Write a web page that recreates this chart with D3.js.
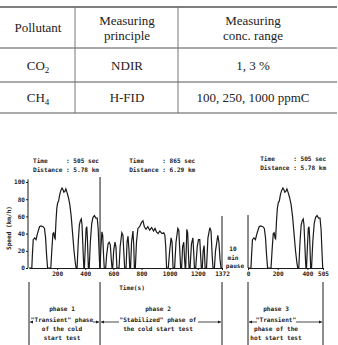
<!DOCTYPE html>
<html>
<head>
<meta charset="utf-8">
<script src="https://cdn.jsdelivr.net/npm/d3@7"></script>
<style>
  body { margin: 0; background: #fff; }
  svg { display: block; }
  .tbl { font-family: "Liberation Serif", "DejaVu Serif", serif; font-size: 13px; fill: #222; }
  .mono { font-family: "DejaVu Sans Mono", "Liberation Mono", monospace; font-size: 6.1px; font-weight: bold; fill: #222; white-space: pre; }
  .axis path, .axis line { stroke: #1a1a1a; stroke-width: 1; }
  .axis text { font-family: "DejaVu Sans Mono", "Liberation Mono", monospace; font-size: 6.1px; font-weight: bold; fill: #222; }
</style>
</head>
<body>
<svg id="chart"></svg>
<script>
// ---- table content ----
const tableHeaders = [["Pollutant"], ["Measuring", "principle"], ["Measuring", "conc. range"]];
const tableRows = [
  [["CO", "2"], ["NDIR"], ["1, 3 %"]],
  [["CH", "4"], ["H-FID"], ["100, 250, 1000 ppmC"]]
];

// ---- driving cycle (time s, speed km/h) ----
// phase 1: transient phase, 0-505 s (repeated as phase 3, hot start)
const phase1 = [
  [0,0],[20,0],[24,15],[30,33],[40,35],[50,33],[60,40],[75,48],[85,49],[100,48],[110,46],
  [118,35],[125,15],[132,0],[155,0],[162,20],[170,40],[176,41],[182,35],[186,34],[192,55],
  [198,70],[204,76],[211,78],[218,85],[226,90],[235,93],[242,91],[248,88],[255,89],[262,92],
  [270,88],[280,82],[290,74],[300,60],[310,40],[320,20],[330,5],[335,0],[342,0],[350,30],
  [358,50],[365,55],[372,57],[377,50],[382,30],[387,10],[390,0],[394,0],[400,25],[406,46],
  [411,48],[415,35],[419,15],[422,0],[428,0],[436,30],[446,52],[455,59],[465,61],[475,58],
  [485,58],[492,45],[498,20],[503,0],[505,0]
];
// phase 2: stabilized phase, 505-1372 s
const phase2 = [
  [505,0],[510,20],[518,42],[524,38],[530,15],[535,0],[545,0],[552,15],[562,28],[570,30],
  [578,27],[585,10],[590,0],[595,0],[602,20],[611,30],[618,25],[625,0],[640,0],[648,25],
  [660,41],[668,38],[675,15],[680,0],[690,0],[697,30],[704,37],[711,20],[716,0],[722,0],
  [729,30],[739,43],[745,25],[749,0],[756,0],[764,30],[774,46],[786,48],[800,53],[810,55],
  [820,48],[832,45],[845,48],[858,44],[872,47],[885,43],[896,46],[906,42],[918,40],[930,43],
  [945,40],[958,41],[966,38],[972,25],[978,0],[990,0],[1000,20],[1010,35],[1017,30],[1024,0],
  [1035,0],[1045,30],[1058,46],[1065,44],[1072,20],[1078,0],[1085,0],[1092,25],[1100,30],
  [1106,10],[1110,0],[1114,0],[1122,45],[1128,41],[1134,15],[1138,0],[1145,0],[1155,28],
  [1165,35],[1172,15],[1176,0],[1185,0],[1196,25],[1205,33],[1214,33],[1220,15],[1225,0],
  [1232,0],[1238,20],[1245,26],[1252,0],[1262,0],[1272,35],[1286,47],[1294,43],[1302,15],
  [1308,0],[1318,0],[1326,20],[1335,30],[1342,38],[1350,30],[1358,10],[1365,0],[1372,0]
];

const coldTicks = [200, 400, 600, 800, 1000, 1200, 1372];
const hotTicks = [0, 200, 400, 505];
const speedTicks = [0, 20, 40, 60, 80, 100];

const infoBlocks = [
  { time: "505 sec", dist: "5.78 km", phase: "cold", t: 0 },
  { time: "865 sec", dist: "6.29 km", phase: "cold", t: 684 },
  { time: "505 sec", dist: "5.78 km", phase: "hot", t: 55 }
];

const width = 338, height = 345;
const svg = d3.select("#chart").attr("width", width).attr("height", height);

// ---------------- table ----------------
const colX = [0, 75, 178, 338];
const colCenter = [38, 127, 253];
const rowY = [7, 48, 82, 113];

const tg = svg.append("g");
tg.selectAll(".hline")
  .data(rowY)
  .enter().append("line")
  .attr("x1", 0).attr("x2", 337)
  .attr("y1", d => d).attr("y2", d => d)
  .attr("stroke", "#555")
  .attr("stroke-width", (d, i) => i === 0 ? 1.6 : 1);
tg.selectAll(".vline")
  .data(colX.slice(1, 3))
  .enter().append("line")
  .attr("x1", d => d).attr("x2", d => d)
  .attr("y1", rowY[0]).attr("y2", rowY[3])
  .attr("stroke", "#777").attr("stroke-width", 1);

tableHeaders.forEach((lines, i) => {
  const mid = (rowY[0] + rowY[1]) / 2 + 4.5;
  lines.forEach((s, j) => {
    tg.append("text").attr("class", "tbl")
      .attr("x", colCenter[i])
      .attr("y", mid + (j - (lines.length - 1) / 2) * 15)
      .attr("text-anchor", "middle")
      .text(s);
  });
});
tableRows.forEach((row, r) => {
  const mid = (rowY[r + 1] + rowY[r + 2]) / 2 + 4.5;
  row.forEach((cell, i) => {
    const t = tg.append("text").attr("class", "tbl")
      .attr("x", colCenter[i]).attr("y", mid)
      .attr("text-anchor", "middle");
    t.append("tspan").text(cell[0]);
    if (cell.length > 1) {
      t.append("tspan").attr("font-size", "9px").attr("dy", 3).text(cell[1]);
    }
  });
});

// ---------------- driving cycle chart ----------------
const xCold = d3.scaleLinear().domain([0, 1372]).range([29, 222]);
const xHot = d3.scaleLinear().domain([0, 505]).range([248, 323]);
const y = d3.scaleLinear().domain([0, 100]).range([268, 182]);

const g = svg.append("g");

// axes
g.append("g").attr("class", "axis")
  .attr("transform", `translate(${xCold(0) - 1},0)`)
  .call(d3.axisLeft(y).tickValues(speedTicks).tickSize(2).tickSizeOuter(0).tickPadding(1))
  .call(a => a.select(".domain").attr("d", `M0,${y(0)}V${y(103)}`));

g.append("g").attr("class", "axis")
  .attr("transform", `translate(0,${y(0)})`)
  .call(d3.axisBottom(xCold).tickValues(coldTicks).tickFormat(d3.format("d"))
    .tickSize(2).tickSizeOuter(0).tickPadding(2));

g.append("g").attr("class", "axis")
  .attr("transform", `translate(0,${y(0)})`)
  .call(d3.axisBottom(xHot).tickValues(hotTicks).tickFormat(d3.format("d"))
    .tickSize(2).tickSizeOuter(0).tickPadding(2));

// speed traces
const lineCold = d3.line().x(d => xCold(d[0])).y(d => y(d[1]));
const lineHot = d3.line().x(d => xHot(d[0])).y(d => y(d[1]));

[phase1, phase2].forEach(p => {
  g.append("path").attr("d", lineCold(p))
    .attr("fill", "none").attr("stroke", "#1a1a1a").attr("stroke-width", 1.2);
});
g.append("path").attr("d", lineHot(phase1))
  .attr("fill", "none").attr("stroke", "#1a1a1a").attr("stroke-width", 1.2);

// phase boundary lines
const boundaries = [
  { x: xCold(0), segs: [[282, 345]] },
  { x: xCold(505), segs: [[177, 268], [282, 345]] },
  { x: xCold(1372), segs: [[216, 268], [282, 345]] },
  { x: xHot(0), segs: [[215, 268], [282, 345]] },
  { x: xHot(505), segs: [[282, 345]] }
];
boundaries.forEach(b => {
  b.segs.forEach(s => {
    g.append("line").attr("x1", b.x).attr("x2", b.x)
      .attr("y1", s[0]).attr("y2", s[1])
      .attr("stroke", "#1a1a1a").attr("stroke-width", 1);
  });
});

// labels
g.append("text").attr("class", "mono")
  .attr("transform", "translate(11,228) rotate(-90)")
  .attr("text-anchor", "middle").text("Speed (km/h)");
g.append("text").attr("class", "mono")
  .attr("x", 132).attr("y", 290).attr("text-anchor", "middle").text("Time(s)");

["10", "min", "pause"].forEach((s, i) => {
  g.append("text").attr("class", "mono")
    .attr("x", 233 + (i === 2 ? 2 : 0)).attr("y", 251 + i * 8.5)
    .attr("text-anchor", "middle").text(s);
});

infoBlocks.forEach(b => {
  const x0 = (b.phase === "cold" ? xCold(b.t) : xHot(b.t)) + 4;
  const y0 = b.phase === "cold" ? 163 : 161;
  g.append("text").attr("class", "mono").attr("x", x0).attr("y", y0)
    .text("Time     : " + b.time);
  g.append("text").attr("class", "mono").attr("x", x0).attr("y", y0 + 8.5)
    .text("Distance : " + b.dist);
});

// phase descriptions
const phases = [
  { x: 62, lines: ["phase 1", "\"Transient\" phase", "of the cold", "start test"], from: xCold(0), to: xCold(505), gap: [33, 93] },
  { x: 158, lines: ["phase 2", "\"Stabilized\" phase of", "the cold start test"], from: xCold(505), to: xCold(1372), gap: [119, 198] },
  { x: 276, lines: ["phase 3", "\"Transient\"", "phase of the", "hot start test"], from: xHot(0), to: xHot(505), gap: [257, 296] }
];

svg.append("defs").append("marker")
  .attr("id", "arr").attr("viewBox", "0 0 6 6")
  .attr("refX", 6).attr("refY", 3)
  .attr("markerWidth", 4).attr("markerHeight", 4)
  .attr("orient", "auto")
  .append("path").attr("d", "M0,0L6,3L0,6Z").attr("fill", "#1a1a1a");

phases.forEach(p => {
  p.lines.forEach((s, i) => {
    g.append("text").attr("class", "mono")
      .attr("x", p.x).attr("y", 311 + i * 9 + (i > 0 ? 2 : 0))
      .attr("text-anchor", "middle").text(s);
  });
  const ay = 322;
  g.append("line").attr("x1", p.gap[0]).attr("x2", p.from + 1)
    .attr("y1", ay).attr("y2", ay)
    .attr("stroke", "#1a1a1a").attr("stroke-width", 0.8).attr("marker-end", "url(#arr)");
  g.append("line").attr("x1", p.gap[1]).attr("x2", p.to - 1)
    .attr("y1", ay).attr("y2", ay)
    .attr("stroke", "#1a1a1a").attr("stroke-width", 0.8).attr("marker-end", "url(#arr)");
});
</script>
</body>
</html>
